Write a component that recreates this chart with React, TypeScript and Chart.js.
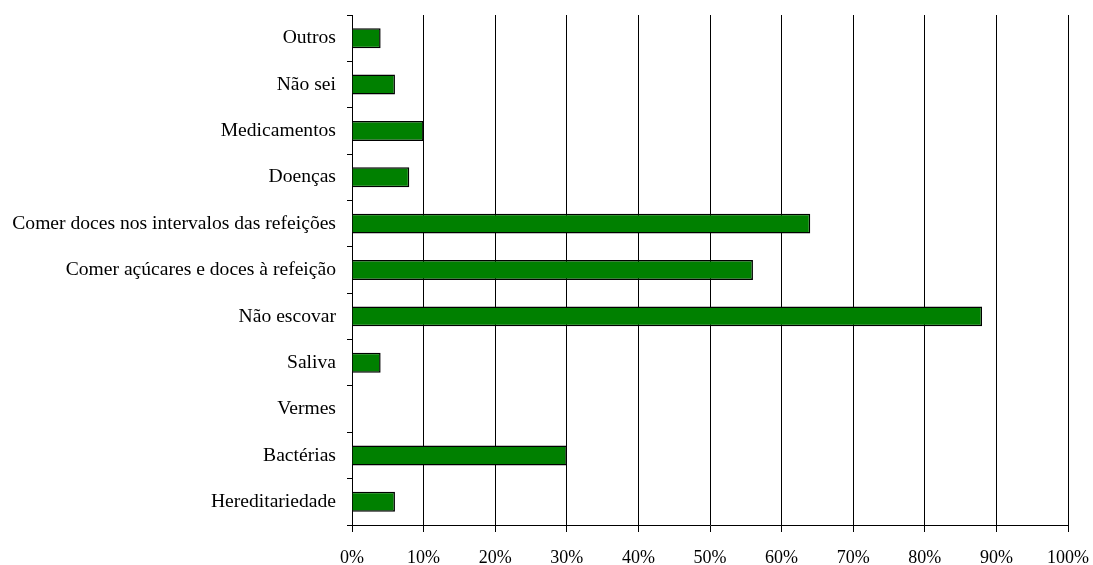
import React, { useEffect, useRef } from "react";
import { Chart, registerables } from "chart.js";

Chart.register(...registerables);

const categories = [
  "Outros",
  "Não sei",
  "Medicamentos",
  "Doenças",
  "Comer doces nos intervalos das refeições",
  "Comer açúcares e doces à refeição",
  "Não escovar",
  "Saliva",
  "Vermes",
  "Bactérias",
  "Hereditariedade",
];

const values = [4, 6, 10, 8, 64, 56, 88, 4, 0, 30, 6];

const xTicks = [0, 10, 20, 30, 40, 50, 60, 70, 80, 90, 100];

export default function App() {
  const ref = useRef<HTMLCanvasElement | null>(null);

  useEffect(() => {
    document.body.style.margin = "0";
    const ctx = ref.current!;
    const family = "'Liberation Serif', 'Times New Roman', serif";
    const chart = new Chart(ctx, {
      type: "bar",
      data: {
        labels: categories,
        datasets: [
          {
            data: values,
            backgroundColor: "#008000",
            borderColor: "#000000",
            borderWidth: 1.5,
            barPercentage: 0.43,
            categoryPercentage: 1,
          },
        ],
      },
      options: {
        indexAxis: "y",
        responsive: false,
        animation: false,
        layout: { padding: { top: 15, right: 25, bottom: 0, left: 0 } },
        plugins: { legend: { display: false }, tooltip: { enabled: false } },
        scales: {
          y: {
            type: "category",
            afterFit: (scale: any) => {
              scale.width = 352;
              scale.paddingTop = 0;
              scale.paddingBottom = 0;
            },
            grid: {
              offset: true,
              drawOnChartArea: false,
              drawTicks: true,
              tickLength: 5,
              color: "#000",
            },
            border: { display: true, color: "#000", width: 1 },
            ticks: { color: "#000", font: { family, size: 19.6 }, padding: 11 },
          },
          x: {
            min: 0,
            max: 100,
            afterBuildTicks: (scale: any) => {
              scale.ticks = xTicks.map((v) => ({ value: v }));
            },
            afterFit: (scale: any) => {
              scale.height = 40;
              scale.paddingLeft = 0;
              scale.paddingRight = 0;
            },
            grid: { color: "#000", lineWidth: 1, tickLength: 7, drawTicks: true },
            border: { display: true, color: "#000", width: 1 },
            ticks: {
              color: "#000",
              font: { family, size: 18 },
              padding: 15,
              maxRotation: 0,
              autoSkip: false,
              callback: (v: any) => `${v}%`,
            },
          },
        },
      },
    });
    return () => chart.destroy();
  }, []);

  return (
    <div style={{ width: 1093, height: 565, background: "#fff" }}>
      <canvas ref={ref} width={1093} height={565} style={{ display: "block" }} />
    </div>
  );
}
